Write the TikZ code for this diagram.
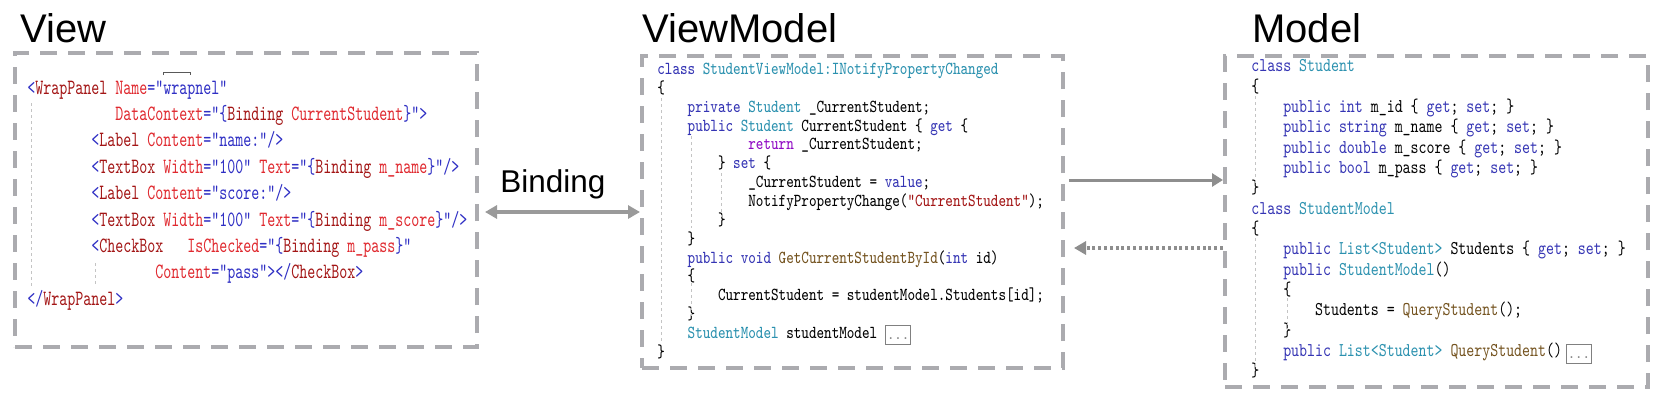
\documentclass[tikz,border=0pt]{standalone}
\usepackage{fontspec}
\usepackage{graphicx}
\usetikzlibrary{arrows.meta,fit}
\newfontfamily\titlefont{Liberation Sans}
\definecolor{boxgray}{HTML}{ABABAF}
\definecolor{arrgray}{HTML}{9A9A9A}
\definecolor{arrdark}{HTML}{8E8E8E}
\definecolor{guidegray}{HTML}{C4C4C4}
\definecolor{xbl}{HTML}{2E2EC4}
\definecolor{xbr}{HTML}{A31515}
\definecolor{xrd}{HTML}{E0282E}
\definecolor{ckw}{HTML}{3434B4}
\definecolor{cty}{HTML}{2B91AF}
\definecolor{cpu}{HTML}{8F08C4}
\definecolor{cme}{HTML}{74531F}
\definecolor{cst}{HTML}{A31515}
\newcommand\xB[1]{\textcolor{xbl}{#1}}
\newcommand\xE[1]{\textcolor{xbr}{#1}}
\newcommand\xA[1]{\textcolor{xrd}{#1}}
\newcommand\cK[1]{\textcolor{ckw}{#1}}
\newcommand\cT[1]{\textcolor{cty}{#1}}
\newcommand\cP[1]{\textcolor{cpu}{#1}}
\newcommand\cM[1]{\textcolor{cme}{#1}}
\newcommand\cS[1]{\textcolor{cst}{#1}}
\newcommand\ind[1]{\hspace*{#1\fontcharwd\font`x}}
\begin{document}
\begin{tikzpicture}[x=0.5pt,y=-0.5pt,
  box/.style={draw=boxgray, line width=2pt, dash pattern=on 8.5pt off 5.5pt, inner sep=0pt},
  title/.style={font=\titlefont\fontsize{20pt}{24pt}\selectfont, inner sep=0pt, anchor=base west},
  code/.style={inner sep=0pt, anchor=base west, font=\ttfamily},
  guide/.style={draw=guidegray, line width=0.5pt, dash pattern=on 1.5pt off 1.5pt},
  dotsbox/.style={draw=gray, line width=0.5pt, minimum width=12.5pt, minimum height=9.5pt, inner sep=0pt,
    text height=4.5pt, text depth=0pt, font=\ttfamily\fontsize{7pt}{7pt}\selectfont, text=gray},
  bindarr/.style={draw=arrgray, line width=1.65pt, arrows={Triangle[length=6pt,width=6.5pt]-Triangle[length=6pt,width=6.5pt]}},
  solidarr/.style={draw=arrdark, line width=1.5pt, arrows={-Triangle[length=5.5pt,width=6.5pt]}},
  dotarr/.style={draw=arrdark, line width=1.7pt, dash pattern=on 1.5pt off 1.4pt, arrows={-Triangle[length=6pt,width=6.5pt]}}
]
\useasboundingbox (0,0) rectangle (1666,403);
\fill[white] (0,0) rectangle (1666,403);

% titles
\node[title] (viewtitle) at (20,42.5) {View};
\node[title] (vmtitle) at (642,42.5) {ViewModel};
\node[title] (modeltitle) at (1252,42.5) {Model};

% boxes
\node[box, fit={(15,53) (477,347)}] (view) {};
\node[box, fit={(642,56) (1063,368)}] (vm) {};
\node[box, fit={(1225,56) (1648,387)}] (model) {};

% View code
\node[code] (viewcode) at (27,94) {\scalebox{0.699}[1]{\fontsize{10.9pt}{13.2pt}\selectfont
\begin{tabular}[t]{@{}l@{}}
\xB{<}\xE{WrapPanel} \xA{Name}\xB{="wrapnel"}\\
\ind{11}\xA{DataContext}\xB{="\{}\xE{Binding} \xA{CurrentStudent}\xB{\}">}\\
\ind{8}\xB{<}\xE{Label} \xA{Content}\xB{="name:"/>}\\
\ind{8}\xB{<}\xE{TextBox} \xA{Width}\xB{="100"} \xA{Text}\xB{="\{}\xE{Binding} \xA{m\_name}\xB{\}"/>}\\
\ind{8}\xB{<}\xE{Label} \xA{Content}\xB{="score:"/>}\\
\ind{8}\xB{<}\xE{TextBox} \xA{Width}\xB{="100"} \xA{Text}\xB{="\{}\xE{Binding} \xA{m\_score}\xB{\}"/>}\\
\ind{8}\xB{<}\xE{CheckBox}\ind{3}\xA{IsChecked}\xB{="\{}\xE{Binding} \xA{m\_pass}\xB{\}"}\\
\ind{16}\xA{Content}\xB{="pass"></}\xE{CheckBox}\xB{>}\\
\xB{</}\xE{WrapPanel}\xB{>}
\end{tabular}}};

% ViewModel code
\node[code] (vmcode) at (657,74.5) {\scalebox{0.789}[1]{\fontsize{9.15pt}{9.43pt}\selectfont
\begin{tabular}[t]{@{}l@{}}
\cK{class} \cT{StudentViewModel:INotifyPropertyChanged}\\
\{\\
\ind{4}\cK{private} \cT{Student} \_CurrentStudent;\\
\ind{4}\cK{public} \cT{Student} CurrentStudent \{ \cK{get} \{\\
\ind{12}\cP{return} \_CurrentStudent;\\
\ind{8}\} \cK{set} \{\\
\ind{12}\_CurrentStudent = \cK{value};\\
\ind{12}NotifyPropertyChange(\cS{"CurrentStudent"});\\
\ind{8}\}\\
\ind{4}\}\\
\ind{4}\cK{public} \cK{void} \cM{GetCurrentStudentById}(\cK{int} id)\\
\ind{4}\{\\
\ind{8}CurrentStudent = studentModel.Students[id];\\
\ind{4}\}\\
\ind{4}\cT{StudentModel} studentModel\\
\}
\end{tabular}}};

% Model code
\node[code] (modelcode) at (1251,71.7) {\scalebox{0.778}[1]{\fontsize{9.75pt}{10.17pt}\selectfont
\begin{tabular}[t]{@{}l@{}}
\cK{class} \cT{Student}\\
\{\\
\ind{4}\cK{public} \cK{int} m\_id \{ \cK{get}; \cK{set}; \}\\
\ind{4}\cK{public} \cK{string} m\_name \{ \cK{get}; \cK{set}; \}\\
\ind{4}\cK{public} \cK{double} m\_score \{ \cK{get}; \cK{set}; \}\\
\ind{4}\cK{public} \cK{bool} m\_pass \{ \cK{get}; \cK{set}; \}\\
\}\\
\cK{class} \cT{StudentModel}\\
\{\\
\ind{4}\cK{public} \cT{List<Student>} Students \{ \cK{get}; \cK{set}; \}\\
\ind{4}\cK{public} \cT{StudentModel}()\\
\ind{4}\{\\
\ind{8}Students = \cM{QueryStudent}();\\
\ind{4}\}\\
\ind{4}\cK{public} \cT{List<Student>} \cM{QueryStudent}()\\
\}
\end{tabular}}};

% collapsed-region boxes
\node[dotsbox] (vmdots) at (898.2,334.5) {...};
\node[dotsbox] (modeldots) at (1578.9,353.5) {...};

% rename marker above wrapnel
\draw[draw=gray!70!black, line width=0.5pt] (163,75) -- (163,72) -- (190,72) -- (190,75);

% indent guides
\draw[guide] (31,103) -- (31,287);
\draw[guide] (95,263) -- (95,287);
\draw[guide] (661,98) -- (661,343);
\draw[guide] (691,136) -- (691,228);
\draw[guide] (721.5,173) -- (721.5,217);
\draw[guide] (691,283) -- (691,317);
\draw[guide] (1255,96) -- (1255,183);
\draw[guide] (1255,238) -- (1255,367);
\draw[guide] (1287,298) -- (1287,330);

% Binding arrow
\node[font=\titlefont\fontsize{15.75pt}{18pt}\selectfont, inner sep=0pt, anchor=base west] (bindlbl) at (500,192) {Binding};
\coordinate (vE) at ([xshift=3pt]view.east);
\draw[bindarr] (vE |- vm.west) -- (vm.west);

% VM <-> Model arrows
\coordinate (s1) at ([yshift=16pt]vm.east);
\coordinate (s1a) at ([xshift=2pt]s1);
\draw[solidarr] (s1a) -- (s1 -| model.west);
\coordinate (s2) at ([yshift=-18pt]vm.east);
\coordinate (s2a) at ([xshift=4.5pt]s2);
\draw[dotarr] (s2 -| model.west) -- (s2a);
\end{tikzpicture}
\end{document}
